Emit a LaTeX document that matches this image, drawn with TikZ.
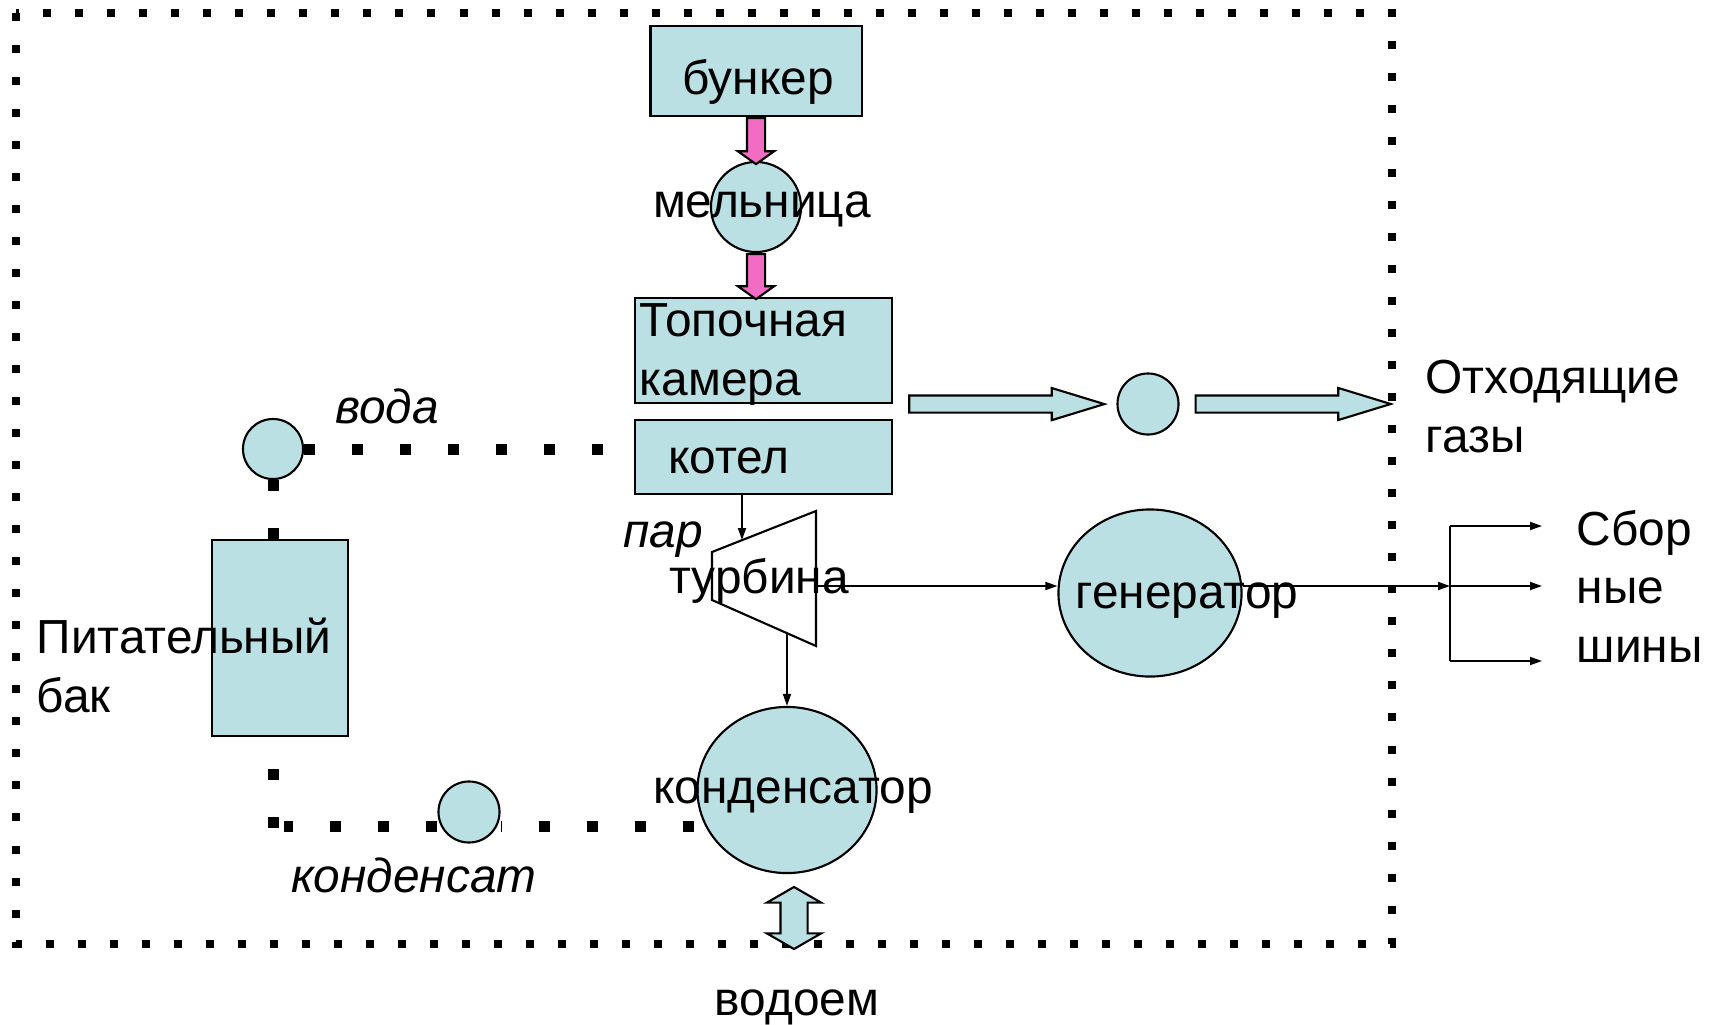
\documentclass[tikz,border=0pt]{standalone}
\usepackage{fontspec}
\setmainfont{Liberation Sans}
\usetikzlibrary{arrows.meta,shapes.arrows,shapes.geometric,positioning,backgrounds}

\begin{document}
\begin{tikzpicture}[x=0.01cm, y=-0.01cm,
  every node/.style={font=\fontsize{13.6}{16.5}\selectfont},
  podpis/.style={font=\fontsize{13.6}{16.5}\selectfont\itshape},
  tekst/.style={anchor=base west, align=left, inner sep=0pt},
  box/.style={draw=black, line width=0.6pt, fill=colorGoluboy, inner sep=0pt},
  krug/.style={ellipse, draw=black, line width=0.6pt, fill=colorGoluboy, inner sep=0pt},
  strelka/.style={line width=0.5pt, -{Triangle[length=0.12cm, width=0.08cm]}},
  voda/.style={line width=0.11cm, dash pattern=on 0.11cm off 0.37cm},
  ramka/.style={line width=0.08cm, dash pattern=on 0.08cm off 0.24cm},
  gaz/.style={single arrow, draw=black, line width=0.6pt, fill=colorGoluboy, inner xsep=0pt, inner ysep=0.075cm,
    single arrow head extend=0.075cm, single arrow tip angle=34, minimum height=1.95cm},
  ugol/.style={single arrow, draw=black, line width=0.6pt, fill=colorRozoviy, inner xsep=0pt, inner ysep=0.08cm,
    single arrow head extend=0.09cm, single arrow tip angle=109, rotate=-90},
  dvoynaya/.style={double arrow, draw=black, line width=0.6pt, fill=colorGoluboy, inner xsep=0pt, inner ysep=0.125cm,
    double arrow head extend=0.135cm, double arrow tip angle=120, minimum height=0.62cm, rotate=90}
  ]
  % Цвета
  \definecolor{colorGoluboy}{RGB}{187, 224, 227}
  \definecolor{colorRozoviy}{RGB}{242, 108, 196}

  \useasboundingbox (0,0) rectangle (1718,1024);

  % Рамка
  \draw[ramka] (16,13) rectangle (1392,944);

  % Блоки
  \node[box, minimum width=2.11cm, minimum height=0.90cm] (bunker) at (756,71) {};
  \node[anchor=base] (bunkerTxt) at (758,94) {бункер};

  \node[krug, minimum size=0.9cm] (melnica) at (756,207) {};
  \node[anchor=base] (melnicaTxt) at (762,217) {мельница};

  \node[box, minimum width=2.57cm, minimum height=1.05cm] (topka) at (763.5,350.5) {};
  \node[tekst] (topkaTxt) at (639,395) {Топочная\\камера};

  \node[box, minimum width=2.57cm, minimum height=0.74cm] (kotel) at (763.5,457) {};
  \node[anchor=base] (kotelTxt) at (729,473) {котел};

  \node[ugol, minimum height=0.46cm, anchor=tail] (ugol1) at (bunker.south) {};
  \node[ugol, minimum height=0.45cm, anchor=tail] (ugol2) at (melnica.south) {};

  % Уходящие газы
  \node[gaz, anchor=tail] (gaz1) at ([xshift=0.15cm]topka.south east) {};
  \node[krug, minimum size=0.61cm] (dymosos) at (1148,404) {};
  \node[gaz, anchor=tail] (gaz2) at ([xshift=0.15cm]dymosos.east) {};
  \node[tekst] (othody) at (1425,452) {Отходящие\\газы};

  % Питательный бак
  \node[krug, minimum size=0.6cm] (nasos1) at (273,449) {};
  \node[podpis, anchor=base] (vodaTxt) at (387,423) {вода};
  \node[box, minimum width=1.36cm, minimum height=1.96cm] (bak) at (280,638) {};
  \node[tekst] (bakTxt) at (36,712) {Питательный\\бак};

  % Турбина
  \draw[line width=0.6pt] (712,552) -- (816,511) -- (816,646) -- (712,600) -- cycle;
  \coordinate (turbVhod) at (742,540);
  \coordinate (turbVal) at (816,586);
  \coordinate (turbNiz) at (787,633);
  \node[podpis, anchor=base] (parTxt) at (663,547) {пар};
  \node[anchor=base] (turbina) at (759,593) {турбина};

  \node[krug, minimum width=1.83cm, minimum height=1.67cm] (generator) at (1150,593) {};
  \node[anchor=base] (generatorTxt) at (1187,608) {генератор};

  \node[krug, minimum width=1.79cm, minimum height=1.66cm] (kondensator) at (787,790) {};
  \node[anchor=base] (kondensatorTxt) at (793,803) {конденсатор};

  \node[krug, minimum size=0.61cm] (nasos2) at (469,812) {};
  \node[podpis, anchor=base] (kondensatTxt) at (414,892) {конденсат};

  \node[dvoynaya] (vodoemStr) at (794,918) {};
  \node[anchor=base] (vodoemTxt) at (797,1015) {водоем};

  % Сборные шины
  \coordinate (shinaV) at (1450,526);
  \coordinate (shinaS) at (1450,586);
  \coordinate (shinaN) at (1450,661);
  \coordinate (konec) at (1542,586);
  \node[tekst] (shiny) at (1576,662) {Сбор\\ные\\шины};

  % Связи
  \draw[strelka] (kotel.south -| turbVhod) -- (turbVhod);
  \draw[strelka] (turbVal) -- (turbVal -| generator.west);
  \draw[strelka] (turbVal -| generator.east) -- (shinaS);
  \draw[line width=0.5pt] (shinaV) -- (shinaN);
  \foreach \s in {shinaV,shinaS,shinaN}
    \draw[strelka] (\s) -- (\s -| konec);
  \draw[strelka] (turbNiz) -- (turbNiz |- kondensator.north);

  % Вода и конденсат
  \coordinate (kondL) at (694,826);
  \coordinate (uglH) at (284,826);
  \coordinate (uglV) at (273,828);
  \begin{scope}[on background layer]
    \draw[voda] (nasos1.east) -- (nasos1.east -| kotel.west);
    \draw[voda] (nasos1.south) -- (nasos1.south |- bak.north);
    \draw[voda] (kondL) -- (kondL -| nasos2.east);
    \draw[voda] (uglH -| nasos2.west) -- (uglH);
    \draw[voda] (uglV) -- (uglV |- bak.south);
  \end{scope}
\end{tikzpicture}
\end{document}
